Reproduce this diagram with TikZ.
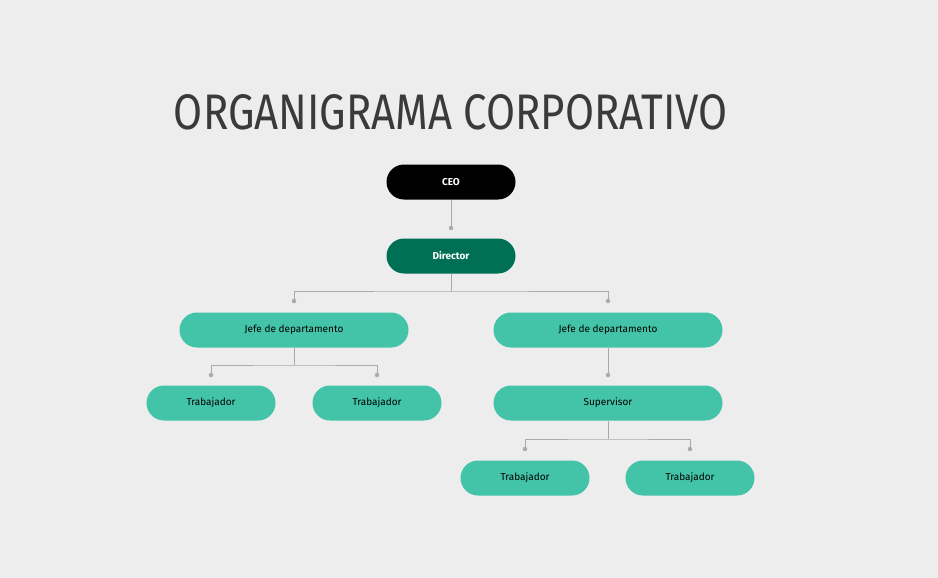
\documentclass[tikz,border=0pt]{standalone}
\usepackage{fontspec}
\setmainfont{Fira Sans}
\newfontfamily\titlefont{Fira Sans}
\definecolor{bg}{HTML}{EDEDED}
\definecolor{dgreen}{HTML}{007055}
\definecolor{lgreen}{HTML}{43C4A8}
\definecolor{lineg}{HTML}{AAAAAA}
\definecolor{titleg}{HTML}{3A3A3A}
\begin{document}
\begin{tikzpicture}[x=1pt,y=-1pt,
  box/.style={rounded corners=17.5pt,minimum height=35pt,inner sep=0pt,font=\fontsize{10}{12}\selectfont},
  small/.style={box,minimum width=129pt},
  wide/.style={box,minimum width=229pt},
  lgbox/.style={fill=lgreen,text=black},
  conn/.style={draw=lineg,line width=1pt},
  dot/.style={circle,fill=lineg,inner sep=0pt,minimum size=4.5pt}]
\fill[bg] (0,0) rectangle (938,578);
\useasboundingbox (0,0) rectangle (938,578);
\node[text=titleg,anchor=center] (title) at (451,112) {\resizebox{554pt}{35pt}{\titlefont\fontseries{l}\selectfont ORGANIGRAMA CORPORATIVO}};
\node[small,fill=black,text=white,font=\fontsize{10}{12}\selectfont\bfseries] (ceo) at (451,182) {CEO};
\node[small,fill=dgreen,text=white,font=\fontsize{10}{12}\selectfont\bfseries] (dir) at (451,256) {Director};
\node[wide,lgbox] (j1) at (294,330) {Jefe de departamento};
\node[wide,lgbox] (j2) at (608,330) {Jefe de departamento};
\node[small,lgbox] (t1) at (211,403) {Trabajador};
\node[small,lgbox] (t2) at (377,403) {Trabajador};
\node[wide,lgbox] (sup) at (608,403) {Supervisor};
\node[small,lgbox] (t3) at (525,478) {Trabajador};
\node[small,lgbox] (t4) at (690,478) {Trabajador};
% dots
\node[dot] (d0) at (451,228) {};
\node[dot] (d1) at (294,301) {};
\node[dot] (d2) at (608,301) {};
\node[dot] (d3) at (211,375) {};
\node[dot] (d4) at (377,375) {};
\node[dot] (d5) at (608,375) {};
\node[dot] (d6) at (525,449) {};
\node[dot] (d7) at (690,449) {};
\draw[conn] (ceo.south) -- (d0.center);
\draw[conn] (dir.south) -- (451,291) coordinate (b1);
\draw[conn] (d1.center) |- (b1) -| (d2.center);
\draw[conn] (j1.south) -- (294,365) coordinate (b2);
\draw[conn] (d3.center) |- (b2) -| (d4.center);
\draw[conn] (j2.south) -- (d5.center);
\draw[conn] (sup.south) -- (608,439) coordinate (b3);
\draw[conn] (d6.center) |- (b3) -| (d7.center);
\end{tikzpicture}
\end{document}
